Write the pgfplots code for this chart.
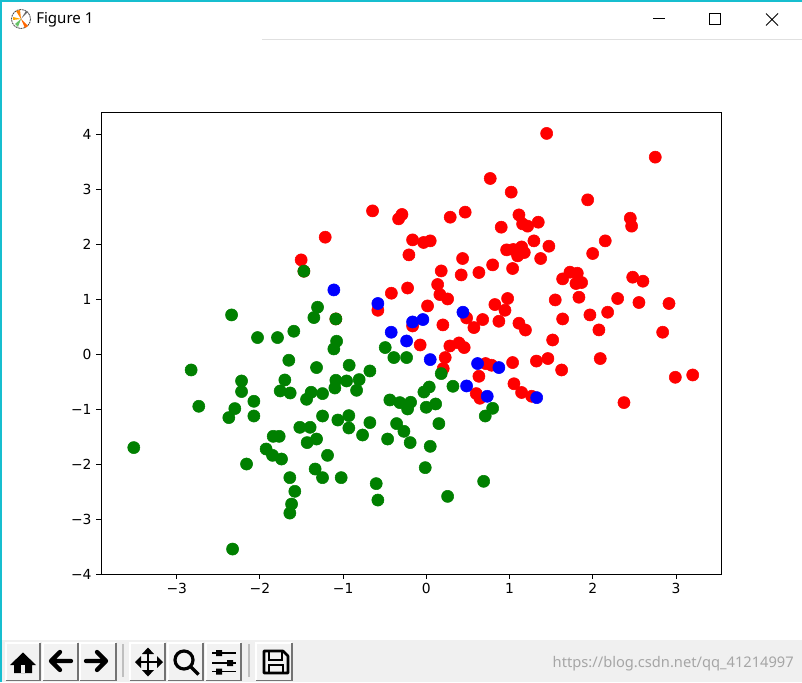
\documentclass[border=0pt]{standalone}
\usepackage{pgfplots}
\usepackage{fontspec}
\setmainfont{DejaVu Sans}
\newfontfamily\winfont{Noto Sans}
\pgfplotsset{compat=1.18}
\definecolor{barbg}{HTML}{F0F0F0}
\definecolor{winedge}{HTML}{17BECF}
\definecolor{mplgreen}{HTML}{008000}

\begin{document}
\begin{tikzpicture}
    \path[use as bounding box] (0,0) rectangle (601.5pt,511.5pt);
    \fill[white] (0,0) rectangle (601.5pt,511.5pt);

    % window frame and toolbar, in screen pixels
    \begin{scope}[x=0.75pt, y=-0.75pt, yshift=511.5pt]
        \fill[barbg] (0,640) rectangle (802,682);
        \draw[winedge, line width=1.5pt] (0.8,682) -- (0.8,1) -- (802,1);
        \draw[black!12, line width=0.75pt] (262,39.5) -- (802,39.5);
        % title bar
        \draw[black!70, line width=0.6pt, dashed, dash pattern=on 1.5pt off 0.5pt] (21,19) circle (9.5);
        \fill[orange] (21,19) -- (16,11) -- (20,10) -- cycle;
        \fill[orange!80!red] (21,19) -- (28,26) -- (25,28) -- cycle;
        \fill[orange!70!yellow] (21,19) -- (13,20) -- (13,17) -- cycle;
        \fill[green!60!black!60] (21,19) -- (15,24) -- (18,27) -- cycle;
        \fill[black!60] (21,19) -- (28,12) -- (26,11) -- cycle;
        \node[anchor=west, inner sep=0pt, font=\winfont\fontsize{11.3pt}{13pt}\selectfont] at (36,19.5) {Figure 1};
        \draw[black, line width=0.8pt] (653,18.5) -- (665,18.5);
        \draw[black, line width=0.8pt] (709.5,13.5) rectangle (720.5,24.5);
        \draw[black, line width=0.7pt] (766,13.5) -- (778,25.5) (778,13.5) -- (766,25.5);
        % buttons
        \foreach \a/\b in {6/40, 43/78, 80/116, 130/165, 168/203, 206/241, 256/292} {
            \fill[black!5] (\a,643) rectangle (\b,680);
            \draw[white, line width=0.8pt] (\a,680) -- (\a,643) -- (\b,643);
            \draw[black!55, line width=0.9pt] (\a,680.5) -- (\b,680.5) -- (\b,643);
        }
        \draw[black!25, line width=0.9pt] (123,644) -- (123,677) (249,644) -- (249,677);
        % home
        \fill[black] (23,652.5) -- (36,665) -- (32,665) -- (32,673) -- (14,673) -- (14,665) -- (10,665) -- cycle;
        \fill[barbg] (21,665) rectangle (25,673);
        % back, forward
        \draw[black, line width=3.2pt, line cap=round, line join=round] (71,661) -- (51,661) (60,652) -- (51,661) -- (60,670);
        \draw[black, line width=3.2pt, line cap=round, line join=round] (86,661) -- (106,661) (97,652) -- (106,661) -- (97,670);
        % move
        \draw[black, line width=2pt] (136,662) -- (161,662) (148,649) -- (148,675);
        \fill[black] (135,662) -- (141,656) -- (141,668) -- cycle;
        \fill[black] (163,662) -- (157,656) -- (157,668) -- cycle;
        \fill[black] (148,647.5) -- (142,654) -- (154,654) -- cycle;
        \fill[black] (148,676.5) -- (142,670) -- (154,670) -- cycle;
        % zoom
        \draw[black, line width=2.4pt] (184,660) circle (9);
        \draw[black, line width=2.6pt] (190.5,666.5) -- (198.5,674.5);
        % sliders
        \draw[black, line width=1.1pt] (212,653) -- (236,653) (212,663) -- (236,663) (212,671.5) -- (236,671.5);
        \fill[black] (216,650) rectangle (222,656) (227,660) rectangle (233,666) (216,668.5) rectangle (222,674.5);
        % save
        \draw[black, line width=1.9pt, line join=round] (264,651) -- (283,651) -- (288,656) -- (288,673) -- (264,673) -- cycle;
        \draw[black, line width=1.3pt] (269,651) -- (269,660) -- (282,660) -- (282,651) (269,673) -- (269,665) -- (283,665) -- (283,673);
        % watermark
        \node[anchor=east, inner sep=0pt, text=black!35, font=\winfont\fontsize{11pt}{13pt}\selectfont] at (794,663.5) {https://blog.csdn.net/qq\_41214997};
    \end{scope}

    \begin{axis}[
        at={(75.75pt,81pt)}, anchor=south west,
        width=465pt, height=346.5pt, scale only axis=true,
        xmin=-3.91, xmax=3.54, ymin=-4, ymax=4.41,
        axis line style={line width=0.75pt},
        tick align=outside, tick pos=left,
        major tick length=3.6pt,
        tick style={black, line width=0.75pt},
        xtick={-3,-2,-1,0,1,2,3}, xticklabels={−3,−2,−1,0,1,2,3},
        ytick={-4,-3,-2,-1,0,1,2,3,4}, yticklabels={−4,−3,−2,−1,0,1,2,3,4},
        ticklabel style={font=\fontsize{10.4pt}{12pt}\selectfont},
        clip=true,
        only marks,
        every axis plot/.append style={mark=*, mark size=4.55pt},
    ]
    \addplot[red, mark options={draw=none, fill=red}] coordinates {
        (0.767,3.200) (1.019,2.951) (-0.647,2.610) (-0.294,2.545) (-0.334,2.465)
        (0.286,2.495) (0.466,2.587) (1.112,2.537) (0.899,2.313) (1.156,2.373)
        (1.216,2.332) (1.344,2.404) (-1.216,2.131) (-0.166,2.082) (-0.034,2.035)
        (0.046,2.064) (-0.210,1.809) (-1.505,1.718) (0.964,1.900) (1.043,1.907)
        (1.144,1.954) (1.176,1.852) (1.096,1.791) (1.292,2.064) (1.373,1.743)
        (0.435,1.743) (1.036,1.561) (0.796,1.627) (0.631,1.488) (0.418,1.444)
        (0.178,1.517) (0.135,1.270) (-0.226,1.206) (-0.421,1.111) (1.445,4.020)
        (2.750,3.588) (1.938,2.811) (2.450,2.477) (2.466,2.332) (2.149,2.064)
        (1.472,1.967) (1.998,1.834) (1.725,1.494) (1.813,1.475) (1.637,1.372)
        (1.797,1.288) (1.865,1.306) (2.479,1.403) (2.602,1.330) (1.833,1.038)
        (0.976,1.015) (1.548,0.989) (2.298,1.015) (2.554,0.942) (2.915,0.924)
        (0.944,0.801) (0.871,0.601) (0.823,0.905) (2.178,0.765) (1.965,0.716)
        (1.637,0.643) (1.112,0.565) (1.190,0.441) (2.073,0.443) (2.839,0.401)
        (1.517,0.260) (1.460,-0.078) (1.322,-0.124) (1.036,-0.151) (1.625,-0.286)
        (2.089,-0.078) (2.991,-0.419) (3.200,-0.377) (1.052,-0.537) (1.144,-0.696)
        (1.265,-0.765) (2.374,-0.880) (-0.583,0.801) (0.014,0.880) (0.162,1.087)
        (0.255,1.007) (0.483,0.661) (0.676,0.632) (0.571,0.486) (-0.166,0.515)
        (0.198,0.534) (-0.075,0.169) (0.282,0.151) (0.391,0.206) (0.454,0.122)
        (0.226,-0.060) (0.202,-0.260) (0.712,-0.169) (0.784,-0.200) (0.631,-0.401)
        (0.599,-0.716) (0.643,-0.801) (-1.472,1.512) (-1.088,0.643)
    };
    \addplot[mplgreen, mark options={draw=none, fill=mplgreen}] coordinates {
        (-1.472,1.512) (-2.341,0.716) (-1.308,0.856) (-1.352,0.668) (-1.088,0.643)
        (-1.593,0.419) (-2.029,0.304) (-1.789,0.304) (-1.079,0.237) (-1.112,0.097)
        (-1.653,-0.109) (-1.320,-0.242) (-2.827,-0.286) (-2.221,-0.486) (-2.221,-0.679)
        (-1.701,-0.468) (-1.757,-0.668) (-1.637,-0.705) (-1.088,-0.474) (-1.100,-0.614)
        (-1.385,-0.692) (-1.440,-0.820) (-1.248,-0.716) (-2.073,-0.856) (-2.735,-0.947)
        (-2.302,-0.989) (-2.374,-1.153) (-2.073,-1.124) (-1.248,-1.124) (-1.064,-1.197)
        (-1.521,-1.330) (-1.397,-1.330) (-1.841,-1.494) (-1.769,-1.494) (-1.320,-1.543)
        (-1.433,-1.608) (-3.516,-1.699) (-1.926,-1.725) (-1.849,-1.840) (-1.741,-1.907)
        (-1.188,-1.840) (-2.161,-1.998) (-1.337,-2.089) (-1.248,-2.246) (-1.024,-2.246)
        (-1.641,-2.246) (-1.581,-2.495) (-1.620,-2.727) (-1.641,-2.891) (-2.329,-3.546)
        (-0.495,0.122) (-0.391,-0.060) (-0.238,-0.060) (-0.928,-0.200) (-0.679,-0.304)
        (0.178,-0.352) (-0.808,-0.461) (-0.959,-0.486) (-0.839,-0.656) (0.319,-0.583)
        (0.034,-0.596) (-0.030,-0.687) (-0.439,-0.832) (-0.319,-0.880) (-0.190,-0.874)
        (-0.226,-0.996) (0.111,-0.905) (-0.002,-0.965) (0.796,-0.984) (0.707,-1.124)
        (-0.932,-1.117) (-0.932,-1.342) (-0.679,-1.244) (-0.767,-1.470) (-0.358,-1.262)
        (-0.270,-1.403) (-0.466,-1.543) (-0.195,-1.608) (0.150,-1.262) (0.046,-1.676)
        (-0.014,-2.064) (-0.603,-2.355) (-0.583,-2.654) (0.255,-2.587) (0.688,-2.313)
    };
    \addplot[blue, mark options={draw=none, fill=blue}] coordinates {
        (-1.112,1.171) (-0.583,0.924) (-0.166,0.588) (-0.042,0.632) (-0.423,0.401)
        (-0.238,0.242) (0.439,0.765) (0.046,-0.097) (0.615,-0.169) (0.871,-0.242)
        (0.483,-0.577) (0.731,-0.765) (1.325,-0.789)
    };
    \end{axis}
\end{tikzpicture}
\end{document}
